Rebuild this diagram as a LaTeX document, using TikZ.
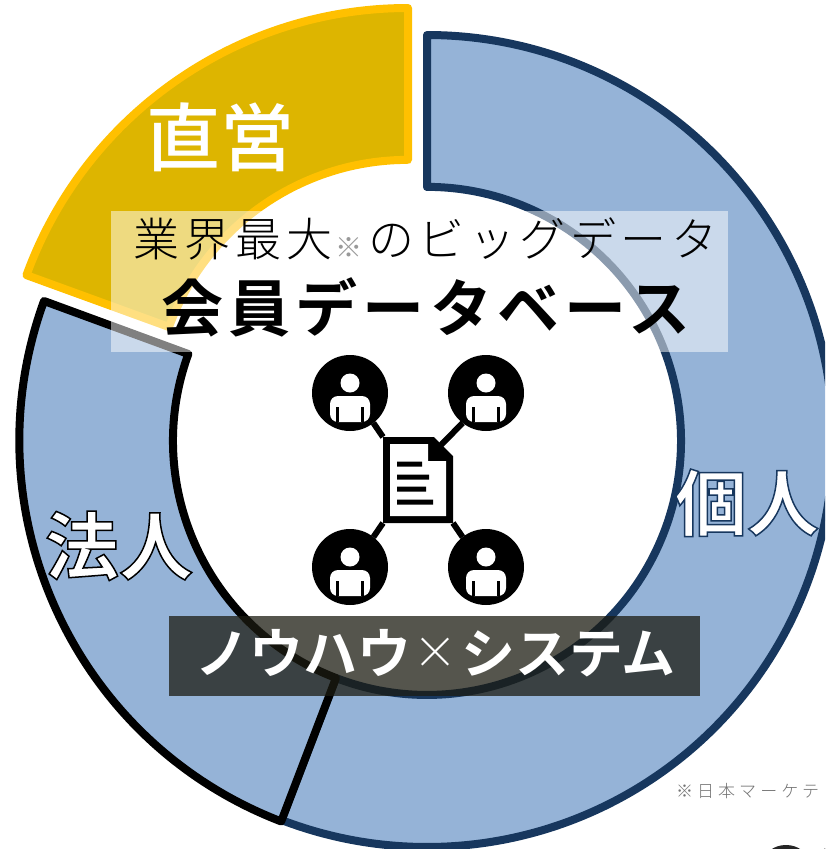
\documentclass[tikz,border=0pt]{standalone}
\usepackage{fontspec}
\newfontfamily\jpr{Noto Sans CJK JP}
\newfontfamily\jpm{Noto Sans CJK JP}[UprightFont=* Medium]
\newfontfamily\jpb{Noto Sans CJK JP}[UprightFont=* Bold]
\newfontfamily\jpl{Noto Sans CJK JP}[UprightFont=* Light]
\definecolor{ringblue}{HTML}{95B3D7}
\definecolor{navy}{HTML}{17375E}
\definecolor{golden}{HTML}{DDB500}
\definecolor{amber}{HTML}{FFC000}
\definecolor{slate}{HTML}{1C1C12}
\newcommand{\outlined}[3]{{\color{white}\special{pdf:code 2 Tr #1 w #2 RG}#3\special{pdf:code 0 Tr}}}
\newcommand{\fs}[1]{\fontsize{#1}{#1}\selectfont}
\tikzset{
  x=1pt,y=-1pt,
  ring/.style={line width=8pt,line join=round},
  label text/.style={inner sep=0pt,outer sep=0pt,anchor=base west},
  badge/.style={inner sep=0pt,outer sep=0pt,circle,fill=black,minimum size=76pt},
  link/.style={line width=6pt},
  pics/personmark/.style={code={
    \fill[white] (0,-10) circle[radius=9.5];
    \fill[white,rounded corners=8pt] (-20,29) -- (-20,3) -- (20,3) -- (20,29) -- cycle;
    \draw[black,line width=2.7pt] (-12.5,14) -- (-12.5,29) (12.5,14) -- (12.5,29);
  }},
}
\begin{document}
\begin{tikzpicture}
\useasboundingbox (0,0) rectangle (825,849);
\clip (0,0) rectangle (825,849);
% sectors
\draw[ring,draw=navy,fill=ringblue] (427,187) -- (427,35)
  arc[start angle=270,end angle=471,radius=406]
  -- (336,678) arc[start angle=111,end angle=-90,radius=254] -- cycle;
\draw[ring,draw=black,fill=ringblue] (44,301)
  arc[start angle=200,end angle=111,radius=408]
  -- (336,678) arc[start angle=111,end angle=200,radius=254] -- cycle;
\draw[ring,draw=amber,fill=golden] (408,160) -- (408,8)
  arc[start angle=270,end angle=200,radius=406]
  -- (169,327) arc[start angle=200,end angle=270,radius=254] -- cycle;
% translucent bands
\fill[white,opacity=.5] (111,211) rectangle (728,352);
\fill[slate,opacity=.75] (169,616) rectangle (700,696);
% icon
\node[badge] (p1) at (350,393) {};
\node[badge] (p2) at (486,393) {};
\node[badge] (p3) at (350,567) {};
\node[badge] (p4) at (486,567) {};
\node[inner sep=0pt,outer sep=0pt,minimum width=70pt,minimum height=86pt] (doc) at (418,480) {};
\coordinate (docfold) at (441,445);
\draw[link] (p1.-52) -- (doc.north west);
\draw[link] (p2.-128) -- (docfold);
\draw[link] (p3.52) -- (doc.south west);
\draw[link] (p4.128) -- (doc.south east);
\pic at (p1) {personmark};
\pic at (p2) {personmark};
\pic at (p3) {personmark};
\pic at (p4) {personmark};
\fill[black] (doc.north west) -- (434,437) -- (453,456) -- (doc.south east) -- (doc.south west) -- cycle;
\fill[white] (390,444) -- (428,444) -- (428,461) -- (446,461) -- (446,516) -- (390,516) -- cycle;
\fill[black] (397,461.5) rectangle (422,466.5) (397,474.5) rectangle (429,479.5)
  (397,486.5) rectangle (426,491.5) (397,499.5) rectangle (433,504.5);
% texts
\node[label text,text=white] (chokuei) at (146,165) {\jpm\fs{74}直営};
\node[label text] (gyokai) at (133,256) {\jpl\fs{46}\addfontfeature{LetterSpace=11}業界最大};
\node[label text,text=black!40] (kome) at (335,257) {\jpl\fs{27}※};
\node[label text] (bigdata) at (368,256) {\jpl\fs{46}\addfontfeature{LetterSpace=10}のビッグデータ};
\node[label text] (kaiin) at (161,331) {\jpb\fs{62}\addfontfeature{LetterSpace=8.5}会員データベース};
\node[label text,text=white] (knowhow) at (195,673) {\jpb\fs{54}ノウハウ};
\node[label text,text=white] (times) at (413,668) {\jpl\fs{44}×};
\node[label text,text=white] (system) at (461,673) {\jpb\fs{54}システム};
\node[label text] (kojin) at (675,530) {\outlined{1.5}{0.09 0.216 0.369}{\jpb\fs{72}個人}};
\node[label text] (hojin) at (45,574) {\outlined{1.5}{0 0 0}{\jpb\fs{74}法人}};
\node[label text,text=black!55] (note) at (676,797) {\jpl\fs{17}\addfontfeature{LetterSpace=24}※日本マーケテ};
% clipped marks at the lower edge
\fill[black!85] (786,862) ellipse[x radius=22,y radius=17];
\fill[black!85] (838,862) ellipse[x radius=22,y radius=17];
\end{tikzpicture}
\end{document}
